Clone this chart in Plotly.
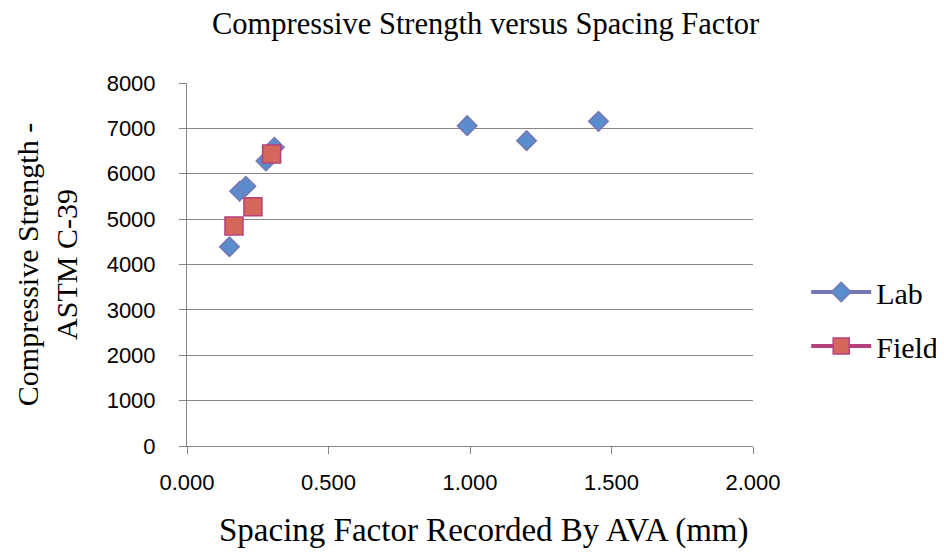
import plotly.graph_objects as go

lab_x = [0.150, 0.186, 0.208, 0.279, 0.309, 0.99, 1.20, 1.454]
lab_y = [4390, 5615, 5725, 6280, 6585, 7060, 6730, 7155]
field_x = [0.166, 0.233, 0.299]
field_y = [4850, 5270, 6435]

x_ticks = [0, 0.5, 1.0, 1.5, 2.0]
x_labels = ["0.000", "0.500", "1.000", "1.500", "2.000"]
y_ticks = [0, 1000, 2000, 3000, 4000, 5000, 6000, 7000, 8000]

LAB_FILL = "#5b8ccc"
LAB_LINE = "#7577b2"
FIELD_FILL = "#d4665c"
FIELD_LINE = "#b6407a"

fig = go.Figure()
fig.add_trace(go.Scatter(x=lab_x, y=lab_y, mode="markers", showlegend=False,
                         marker=dict(symbol="diamond", size=15, color=LAB_FILL,
                                     line=dict(color=LAB_LINE, width=1.5))))
fig.add_trace(go.Scatter(x=field_x, y=field_y, mode="markers", showlegend=False,
                         marker=dict(symbol="square", size=18, color=FIELD_FILL,
                                     line=dict(color=FIELD_LINE, width=1.5))))
# legend entries (line + marker, as in the original)
fig.add_trace(go.Scatter(x=[None], y=[None], mode="lines+markers", name="Lab",
                         legendgroup="a",
                         line=dict(color=LAB_LINE, width=4),
                         marker=dict(symbol="diamond", size=15, color=LAB_FILL,
                                     line=dict(color=LAB_LINE, width=1.5))))
fig.add_trace(go.Scatter(x=[None], y=[None], mode="lines+markers", name="Field",
                         legendgroup="b",
                         line=dict(color=FIELD_LINE, width=4),
                         marker=dict(symbol="square", size=18, color=FIELD_FILL,
                                     line=dict(color=FIELD_LINE, width=1.5))))

serif = "Liberation Serif"
sans = "Liberation Sans"

fig.update_layout(
    width=944, height=554,
    margin=dict(l=179, r=199, t=75, b=116, autoexpand=False),
    paper_bgcolor="white", plot_bgcolor="white",
    title=dict(text="Compressive Strength versus Spacing Factor",
               font=dict(family=serif, size=30.5, color="black"),
               x=0.506, xanchor="center", y=0.972, yanchor="middle"),
    legend=dict(x=1.094, xanchor="left", y=0.35, yanchor="middle",
                font=dict(family=serif, size=30, color="black"),
                itemwidth=60, tracegroupgap=12, bgcolor="rgba(0,0,0,0)"),
    xaxis=dict(range=[0, 2], tickvals=x_ticks, ticktext=x_labels,
               showgrid=False, zeroline=False, showline=True,
               linecolor="#868686", linewidth=1,
               ticks="outside", ticklen=7, tickcolor="#868686",
               ticklabelstandoff=10,
               tickfont=dict(family=sans, size=22, color="black")),
    yaxis=dict(range=[0, 8000], tickvals=y_ticks,
               showgrid=True, gridcolor="#868686", gridwidth=1,
               zeroline=False, showline=True,
               linecolor="#868686", linewidth=1,
               ticks="outside", ticklen=7, tickcolor="#868686",
               ticklabelstandoff=19,
               tickfont=dict(family=sans, size=22, color="black"),
               title=dict(text="Compressive Strength -<br>ASTM C-39",
                          font=dict(family=serif, size=30, color="black"),
                          standoff=20)),
    annotations=[dict(text="Spacing Factor Recorded By AVA (mm)",
                      xref="paper", yref="paper", x=0.524, y=-0.232,
                      xanchor="center", yanchor="middle", showarrow=False,
                      font=dict(family=serif, size=33, color="black"))],
)

fig.write_html("out.html")
